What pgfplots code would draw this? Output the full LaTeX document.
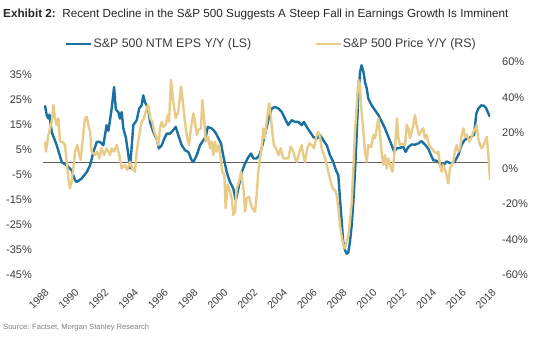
\documentclass[border=0pt]{standalone}
\usepackage{fontspec}
\setmainfont{Liberation Sans}
\usepackage{pgfplots}
\pgfplotsset{compat=1.18}
\definecolor{epsblue}{RGB}{27,112,163}
\definecolor{pxgold}{RGB}{232,203,135}
\definecolor{txt}{RGB}{60,60,60}
\pgfplotsset{
  base/.style={scale only axis, width=447bp, height=213bp, at={(43bp,63bp)}, anchor=south west,
    xmin=1988, xmax=2018, axis line style={draw=none}, major tick length=0pt,
    tick label style={font=\fontsize{11bp}{13bp}\selectfont, text=txt}}
}
\begin{document}
\begin{tikzpicture}[x=1bp,y=1bp]
\useasboundingbox (0,0) rectangle (549,338);
\node[anchor=base west, inner sep=0pt, font=\fontsize{11.7bp}{13bp}\selectfont, text=black!85] at (3,321)
  {\textbf{Exhibit 2:}\ \ Recent Decline in the S\&P 500 Suggests A Steep Fall in Earnings Growth Is Imminent};
\node[anchor=base west, inner sep=0pt, font=\fontsize{7.6bp}{9bp}\selectfont, text=black!50] at (3,9)
  {Source: Factset, Morgan Stanley Research};

\begin{axis}[base, ymin=-45, ymax=40,
  ytick={-45,-35,...,35},
  yticklabels={-45\%,-35\%,-25\%,-15\%,-5\%,5\%,15\%,25\%,35\%},
  yticklabel style={anchor=east, inner sep=0pt, xshift=-11bp},
  xtick={1988,1990,...,2018},
  xticklabels={1988,1990,1992,1994,1996,1998,2000,2002,2004,2006,2008,2010,2012,2014,2016,2018},
  xticklabel style={rotate=45, anchor=north east, inner sep=0pt, xshift=-8bp, yshift=-10bp,
    font=\fontsize{10.4bp}{12bp}\selectfont}]
\draw[gray!75!black, line width=0.7bp] (axis cs:1988,0) -- (axis cs:2018,0);
\addplot[epsblue, line width=2.4bp, line join=round] coordinates {
(1988.13,22.7)(1988.25,18.8)(1988.36,17.5)(1988.43,19)(1988.59,12)(1988.92,6.8)(1989.26,0)(1989.59,-1.2)(1989.92,-3.2)(1990.15,-7.2)(1990.26,-7.9)(1990.59,-6.5)(1990.94,-3.9)(1991.16,-1.2)(1991.38,4.1)(1991.61,8.1)(1991.83,8.1)(1992.05,6.8)(1992.27,14.8)(1992.39,12.5)(1992.61,21.4)(1992.77,30)(1992.89,21)(1993.06,20)(1993.16,17.4)(1993.28,20)(1993.39,13.6)(1993.57,9.6)(1993.73,2.8)(1993.84,-2.4)(1993.95,6)(1994.06,14.8)(1994.29,16.8)(1994.46,21.5)(1994.62,22.7)(1994.73,26.7)(1994.84,24)(1995.06,21.4)(1995.18,16.1)(1995.40,12.1)(1995.63,9.4)(1995.78,5.5)(1995.97,6.8)(1996.14,9.4)(1996.30,11.4)(1996.52,11.4)(1996.74,12.8)(1996.91,14.1)(1997.08,10.8)(1997.31,6.8)(1997.53,4.8)(1997.75,4.1)(1997.98,0.8)(1998.09,0.1)(1998.32,2.8)(1998.54,6.8)(1998.76,8.8)(1998.92,10)(1999.06,14.1)(1999.32,13.5)(1999.55,12.1)(1999.73,10.1)(1999.95,7.5)(2000.09,2.8)(2000.33,-3.9)(2000.55,-7.9)(2000.77,-10.5)(2000.94,-15.2)(2001.11,-10.5)(2001.34,-3.9)(2001.51,-1.2)(2001.73,1.5)(2001.96,3.5)(2002.12,1.5)(2002.34,1.5)(2002.52,2.8)(2002.67,5.5)(2002.89,10.8)(2003.12,16.8)(2003.35,21.4)(2003.57,22.1)(2003.80,21.4)(2004.02,20.1)(2004.24,17.4)(2004.46,14.8)(2004.69,16.8)(2004.91,16.1)(2005.13,16.1)(2005.36,14.8)(2005.51,16.1)(2005.70,14.1)(2005.92,12.1)(2006.14,10.1)(2006.37,9.4)(2006.59,10.8)(2006.81,8.8)(2007.04,6.8)(2007.26,2.8)(2007.48,0.1)(2007.66,-3.2)(2007.82,-5.2)(2007.93,-14.5)(2008.05,-23.8)(2008.15,-31.8)(2008.27,-35.1)(2008.38,-36.5)(2008.49,-36)(2008.60,-31.8)(2008.72,-25.1)(2008.83,-15.8)(2008.94,-3.9)(2009.06,12.1)(2009.16,26.7)(2009.28,36)(2009.38,38.7)(2009.50,36.2)(2009.61,32)(2009.73,29.4)(2009.83,25.4)(2010.06,22.7)(2010.28,20.8)(2010.51,18.8)(2010.74,16.1)(2010.96,13.4)(2011.18,10.1)(2011.40,6.8)(2011.58,4.1)(2011.73,5.5)(2011.96,5.8)(2012.18,6.1)(2012.34,4.1)(2012.52,6.1)(2012.74,7.1)(2012.96,7.0)(2013.18,7.5)(2013.41,8.4)(2013.63,7.1)(2013.85,5.5)(2014.04,2.8)(2014.19,0.8)(2014.42,0.6)(2014.64,-0.5)(2014.86,-1.2)(2015.09,0.3)(2015.31,-0.3)(2015.47,-0.3)(2015.65,0.5)(2015.87,2.8)(2016.10,7)(2016.31,9)(2016.50,9.5)(2016.74,10.1)(2016.93,11)(2017.08,19.4)(2017.22,21.4)(2017.41,22.7)(2017.61,22.5)(2017.75,21.5)(2017.85,20)(2018.0,18.2)
};
\end{axis}

\begin{axis}[base, ymin=-60, ymax=60, axis y line*=right, axis x line=none,
  ytick={-60,-40,...,60},
  yticklabels={-60\%,-40\%,-20\%,0\%,20\%,40\%,60\%},
  yticklabel style={anchor=west, inner sep=0pt, xshift=12bp},
  legend style={at={(0.51,1.0845)}, anchor=center, draw=none, fill=none, legend columns=2,
    font=\fontsize{12.4bp}{14bp}\selectfont, text=txt, inner sep=0pt,
    nodes={inner sep=1bp},
    /tikz/every odd column/.append style={column sep=0bp},
    /tikz/every even column/.append style={column sep=62bp}},
  legend image code/.code={\draw[#1] (0bp,0bp) -- (25bp,0bp);}]
\addlegendimage{epsblue, line width=2.4bp}
\addlegendentry{S\&P 500 NTM EPS Y/Y (LS)}
\addplot[pxgold, line width=2.4bp, line join=round] coordinates {
(1988.13,15.1)(1988.20,9.5)(1988.36,18.9)(1988.59,26.4)(1988.69,35.8)(1988.81,28.3)(1988.92,24.5)(1989.03,28.3)(1989.14,15.1)(1989.32,15.1)(1989.48,13.2)(1989.59,3.8)(1989.70,-5.5)(1989.81,-11.2)(1989.92,-7.4)(1990.03,0.1)(1990.15,9.5)(1990.30,13.2)(1990.44,7.6)(1990.53,4.8)(1990.67,17.0)(1990.82,28.3)(1990.94,29.2)(1991.04,24.5)(1991.16,20.7)(1991.26,9.5)(1991.49,7.6)(1991.65,9.5)(1991.78,5.7)(1991.93,11.4)(1992.10,7.6)(1992.27,11.4)(1992.50,7.6)(1992.61,11.4)(1992.77,9.5)(1992.94,13.2)(1993.12,7.6)(1993.28,0.1)(1993.50,2.0)(1993.66,-0.8)(1993.84,3.8)(1994.02,-0.8)(1994.17,-1.8)(1994.29,9.5)(1994.46,18.9)(1994.62,26.4)(1994.78,28.3)(1994.96,33.9)(1995.05,36)(1995.20,28.3)(1995.33,26.4)(1995.47,20.7)(1995.63,17.0)(1995.74,13.2)(1995.85,22.6)(1995.97,26.4)(1996.07,23.5)(1996.23,24.5)(1996.37,30.1)(1996.46,26.4)(1996.59,49.9)(1996.74,37.6)(1996.91,28.3)(1997.08,32)(1997.26,46.1)(1997.41,35.8)(1997.53,26.4)(1997.64,18.9)(1997.80,13.2)(1997.93,22.6)(1998.09,31.1)(1998.20,26.4)(1998.32,18.9)(1998.42,21.7)(1998.60,22.6)(1998.69,38.6)(1998.83,26.4)(1998.92,15.1)(1999.09,17.9)(1999.21,11.4)(1999.32,15.1)(1999.43,7.6)(1999.55,15.1)(1999.66,9.5)(1999.81,13.2)(1999.95,3.8)(2000.03,-1.8)(2000.17,-3.7)(2000.26,-22.4)(2000.39,-9)(2000.55,-13.1)(2000.67,-16.8)(2000.77,-26.2)(2000.89,-24.3)(2001.00,-11.2)(2001.16,-7.4)(2001.29,-1.8)(2001.45,-11.2)(2001.56,-24.3)(2001.68,-16.8)(2001.83,-15.9)(2001.96,-20.5)(2002.12,-23.4)(2002.23,-24.3)(2002.34,-14.9)(2002.45,-1.8)(2002.56,5.7)(2002.67,11.4)(2002.79,22.6)(2002.89,17)(2003.01,26.4)(2003.12,33.9)(2003.19,36.7)(2003.28,30.1)(2003.41,18.9)(2003.50,13.2)(2003.63,11.4)(2003.80,7.6)(2003.95,11.4)(2004.12,5.7)(2004.31,5.7)(2004.46,5.7)(2004.62,12.3)(2004.80,9.5)(2004.91,5.7)(2005.03,3.8)(2005.21,9.5)(2005.36,13.2)(2005.47,7.6)(2005.58,3.8)(2005.74,11.4)(2005.87,14.2)(2006.03,13.2)(2006.19,11.4)(2006.37,18.9)(2006.47,20.7)(2006.59,17.9)(2006.70,11.4)(2006.86,7.6)(2006.99,3.8)(2007.15,-1.8)(2007.31,-7.4)(2007.44,-11.2)(2007.60,-12)(2007.71,-14.9)(2007.82,-22.4)(2007.93,-31.8)(2008.05,-38.4)(2008.15,-43.1)(2008.27,-45)(2008.38,-41.2)(2008.49,-37.5)(2008.60,-30)(2008.72,-18.7)(2008.83,0.1)(2008.94,20.7)(2009.06,35.8)(2009.16,50)(2009.28,45.2)(2009.38,32)(2009.50,20.7)(2009.61,9.5)(2009.73,3.8)(2009.83,13.2)(2010.02,12)(2010.17,18.9)(2010.28,17)(2010.40,22.6)(2010.51,28.3)(2010.62,18.9)(2010.74,7.6)(2010.84,2.0)(2010.96,7.6)(2011.06,0.1)(2011.18,5.7)(2011.29,2)(2011.45,-1.8)(2011.58,7.6)(2011.67,17)(2011.76,28.3)(2011.85,17)(2011.96,13.2)(2012.12,14)(2012.30,13.2)(2012.41,24.5)(2012.52,22.6)(2012.63,17)(2012.74,20.7)(2012.86,24.5)(2012.96,30.1)(2013.08,24.5)(2013.23,18.9)(2013.37,20.7)(2013.52,22.6)(2013.63,17)(2013.75,18.9)(2013.85,15.1)(2013.97,12.3)(2014.08,11.4)(2014.26,9.5)(2014.42,8.5)(2014.53,9.5)(2014.64,2.0)(2014.76,-1.8)(2014.86,2.0)(2014.98,-0.8)(2015.09,-3.7)(2015.20,-8.4)(2015.31,0)(2015.42,2.0)(2015.53,3.8)(2015.65,9.5)(2015.76,13.2)(2015.87,9.5)(2015.99,11.4)(2016.10,18.9)(2016.21,22.6)(2016.32,17.9)(2016.46,19)(2016.61,15.1)(2016.74,17)(2016.88,20.7)(2016.99,22)(2017.11,24.5)(2017.21,17.0)(2017.33,13.2)(2017.44,11.4)(2017.56,13.2)(2017.66,15.1)(2017.78,17.9)(2017.89,7.6)(2018.00,-6.5)
};
\addlegendentry{S\&P 500 Price Y/Y (RS)}
\end{axis}
\end{tikzpicture}
\end{document}
